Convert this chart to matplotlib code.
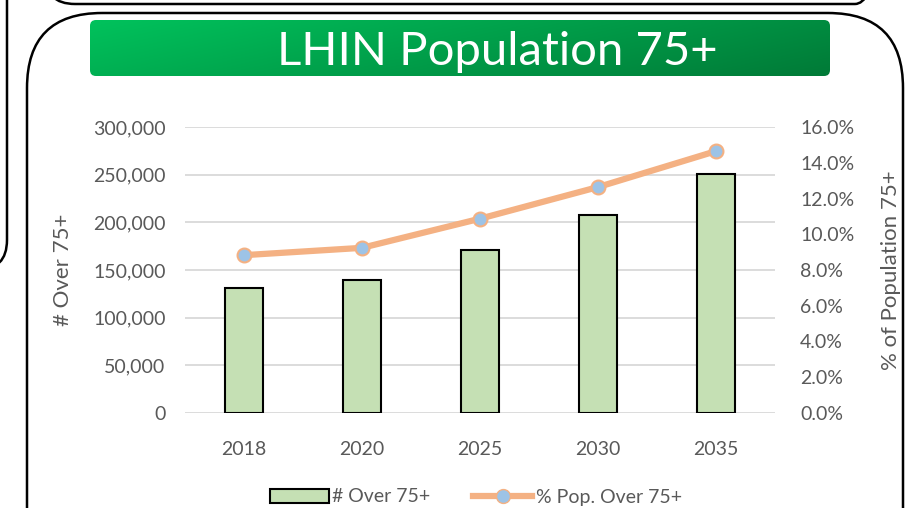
import numpy as np
import matplotlib
matplotlib.use("Agg")
import matplotlib.pyplot as plt
from matplotlib.patches import FancyBboxPatch, Patch
from matplotlib.lines import Line2D
from matplotlib.ticker import FuncFormatter, MultipleLocator

plt.rcParams['font.family'] = ['Lato', 'DejaVu Sans']

# data
years = ['2018', '2020', '2025', '2030', '2035']
over75 = [131000, 139500, 171000, 207500, 251000]
pct_over75 = [8.83, 9.24, 10.87, 12.64, 14.65]

bar_fill = '#C5E0B4'
line_col = '#F4B183'
marker_col = '#9DC3E6'
grid_col = '#D9D9D9'
text_col = '#595959'

W, H = 906, 508
fig = plt.figure(figsize=(W / 100, H / 100), dpi=100)

# background layer in pixel coordinates for frames and title banner
bg = fig.add_axes([0, 0, 1, 1], zorder=0)
bg.set_xlim(0, W)
bg.set_ylim(H, 0)
bg.axis('off')

# main rounded frame (runs off the bottom/right)
bg.add_patch(FancyBboxPatch((27, 13), 876, 620, boxstyle="round,pad=0,rounding_size=75",
                            fill=False, ec='black', lw=1.8))
# bottom edge of the box above
bg.add_patch(FancyBboxPatch((45, -200), 840, 204, boxstyle="round,pad=0,rounding_size=30",
                            fill=False, ec='black', lw=1.8))
# right edge of the box on the left
bg.add_patch(FancyBboxPatch((-300, -200), 307, 470, boxstyle="round,pad=0,rounding_size=30",
                            fill=False, ec='black', lw=1.8))

# green title banner with gradient
banner = FancyBboxPatch((90, 20), 740, 56, boxstyle="round,pad=0,rounding_size=6",
                        fc='none', ec='none')
bg.add_patch(banner)
gx, gy = np.meshgrid(np.linspace(0, 1, 200), np.linspace(0, 1, 50))
t = np.clip(0.75 * gx + 0.25 * gy, 0, 1)
c0 = np.array([0x00, 0xC2, 0x5C]) / 255
c1 = np.array([0x00, 0x7A, 0x37]) / 255
grad = c0[None, None, :] * (1 - t[..., None]) + c1[None, None, :] * t[..., None]
im = bg.imshow(grad, extent=[90, 830, 76, 20], aspect='auto', zorder=1)
im.set_clip_path(banner)
bg.text(497, 52, 'LHIN Population 75+', color='white', fontsize=34,
        ha='center', va='center', zorder=2)

# chart
ax = fig.add_axes([185 / W, 1 - 413 / H, 590 / W, 286 / H], zorder=1)
ax.set_facecolor('none')
x = np.arange(len(years))
ax.bar(x, over75, width=0.32, color=bar_fill, edgecolor='black', linewidth=1.5, zorder=2)
ax.set_xlim(-0.5, len(years) - 0.5)
ax.set_ylim(0, 300000)
ax.yaxis.set_major_locator(MultipleLocator(50000))
ax.yaxis.set_major_formatter(FuncFormatter(lambda v, p: f'{int(v):,}'))
ax.set_xticks(x)
ax.set_xticklabels(years)
ax.grid(axis='y', color=grid_col, lw=1.3, zorder=0)
ax.set_axisbelow(True)
for s in ax.spines.values():
    s.set_visible(False)
ax.tick_params(length=0, labelsize=14, labelcolor=text_col, pad=14)
ax.tick_params(axis='x', pad=20)
ax.set_ylabel('# Over 75+', fontsize=16, color=text_col, labelpad=14)

ax2 = ax.twinx()
ax2.plot(x, pct_over75, color=line_col, lw=4.5, marker='o', markersize=10,
         markerfacecolor=marker_col, markeredgecolor=line_col, markeredgewidth=1.5,
         zorder=3, solid_capstyle='round')
ax2.set_ylim(0, 16)
ax2.yaxis.set_major_locator(MultipleLocator(2))
ax2.yaxis.set_major_formatter(FuncFormatter(lambda v, p: f'{v:.1f}%'))
for s in ax2.spines.values():
    s.set_visible(False)
ax2.tick_params(length=0, labelsize=14, labelcolor=text_col, pad=18)
ax2.set_ylabel('% of Population 75+', fontsize=16, color=text_col, labelpad=19)

handles = [Patch(facecolor=bar_fill, edgecolor='black', linewidth=1.5),
           Line2D([0], [0], color=line_col, lw=4.5, marker='o', markersize=10,
                  markerfacecolor=marker_col, markeredgecolor=line_col)]
fig.legend(handles, ['# Over 75+', '% Pop. Over 75+'], loc='center',
           bbox_to_anchor=(476 / W, 1 - 497 / H), ncol=2, frameon=False,
           fontsize=14, labelcolor=text_col, handlelength=3.0, handletextpad=0.2,
           columnspacing=2.2)

fig.savefig('out.png', dpi=100)
